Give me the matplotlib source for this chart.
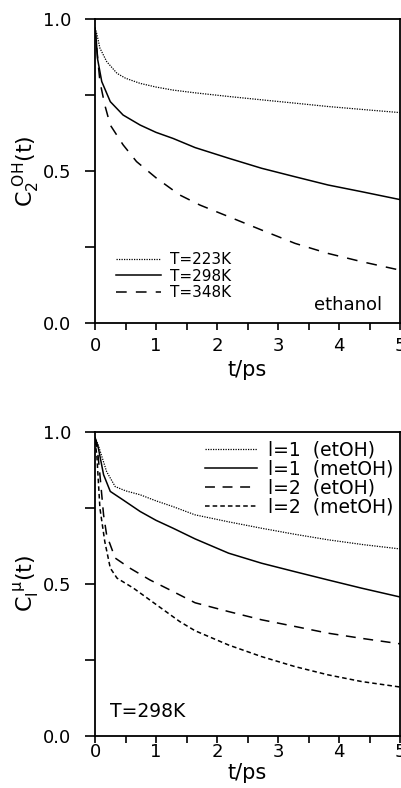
import numpy as np
import matplotlib
matplotlib.use('Agg')
import matplotlib.pyplot as plt
import matplotlib.ticker as ticker

# top panel: ethanol, C2^OH(t) at three temperatures
t223 = [0.0, 0.03, 0.08, 0.19, 0.36, 0.5, 0.74, 1.0, 1.28, 1.64, 2.19, 2.73, 3.28, 3.82, 4.4, 5.0]
c223 = [0.97, 0.95, 0.904, 0.86, 0.821, 0.805, 0.788, 0.776, 0.766, 0.757, 0.745, 0.734, 0.723, 0.712, 0.702, 0.692]
t298 = [0.0, 0.02, 0.04, 0.11, 0.25, 0.46, 0.74, 1.0, 1.28, 1.64, 2.19, 2.73, 3.28, 3.82, 4.37, 5.0]
c298 = [0.97, 0.93, 0.87, 0.794, 0.728, 0.684, 0.651, 0.627, 0.607, 0.577, 0.542, 0.509, 0.481, 0.454, 0.432, 0.406]
t348 = [0.0, 0.03, 0.08, 0.16, 0.25, 0.46, 0.68, 1.01, 1.39, 1.72, 2.19, 2.73, 3.28, 3.82, 4.37, 5.0]
c348 = [0.97, 0.90, 0.794, 0.717, 0.651, 0.586, 0.531, 0.476, 0.421, 0.388, 0.35, 0.306, 0.262, 0.229, 0.202, 0.174]

# bottom panel: l=1,2 for etOH and metOH at 298 K
t_l1_et = [0.0, 0.05, 0.19, 0.33, 0.5, 0.74, 1.0, 1.28, 1.64, 2.19, 2.73, 3.28, 3.82, 4.4, 5.0]
l1_et = [0.98, 0.957, 0.868, 0.819, 0.805, 0.792, 0.772, 0.753, 0.726, 0.703, 0.682, 0.662, 0.644, 0.628, 0.614]
t_l1_met = [0.0, 0.05, 0.14, 0.25, 0.46, 0.74, 1.0, 1.28, 1.64, 2.19, 2.73, 3.28, 3.82, 4.37, 5.0]
l1_met = [0.98, 0.95, 0.858, 0.803, 0.775, 0.737, 0.708, 0.682, 0.647, 0.6, 0.567, 0.539, 0.512, 0.485, 0.456]
t_l2_et = [0.0, 0.04, 0.08, 0.14, 0.19, 0.33, 0.57, 0.9, 1.2, 1.64, 2.19, 2.73, 3.28, 3.82, 4.37, 5.0]
l2_et = [0.98, 0.94, 0.858, 0.726, 0.66, 0.584, 0.551, 0.512, 0.482, 0.437, 0.408, 0.381, 0.359, 0.337, 0.32, 0.302]
t_l2_met = [0.0, 0.03, 0.08, 0.16, 0.25, 0.36, 0.63, 1.01, 1.39, 1.64, 2.19, 2.73, 3.28, 3.82, 4.37, 5.0]
l2_met = [0.97, 0.92, 0.748, 0.638, 0.551, 0.518, 0.485, 0.43, 0.375, 0.345, 0.298, 0.26, 0.227, 0.2, 0.178, 0.16]

leg_top = ['T=223K', 'T=298K', 'T=348K']
leg_bot = ['l=1  (etOH)', 'l=1  (metOH)', 'l=2  (etOH)', 'l=2  (metOH)']

plt.rcParams['font.family'] = ['DejaVu Sans']
fig = plt.figure(figsize=(4.01, 7.88), dpi=100)
ax1 = fig.add_axes([0.237, 0.590, 0.7605, 0.386])
ax2 = fig.add_axes([0.237, 0.0664, 0.7605, 0.386])

lw = 1.1
ax1.plot(t223, c223, color='k', lw=0.9, linestyle=(0, (1, 1)), label=leg_top[0])
ax1.plot(t298, c298, color='k', lw=lw, linestyle='-', label=leg_top[1])
ax1.plot(t348, c348, color='k', lw=lw, linestyle=(0, (7, 6)), label=leg_top[2])

ax2.plot(t_l1_et, l1_et, color='k', lw=0.9, linestyle=(0, (1, 1)), label=leg_bot[0])
ax2.plot(t_l1_met, l1_met, color='k', lw=lw, linestyle='-', label=leg_bot[1])
ax2.plot(t_l2_et, l2_et, color='k', lw=lw, linestyle=(0, (6.5, 5)), label=leg_bot[2])
ax2.plot(t_l2_met, l2_met, color='k', lw=lw, linestyle=(0, (3, 2)), label=leg_bot[3])

for ax in (ax1, ax2):
    ax.set_xlim(0, 5)
    ax.set_ylim(0, 1)
    ax.xaxis.set_major_locator(ticker.MultipleLocator(1))
    ax.xaxis.set_minor_locator(ticker.MultipleLocator(0.5))
    ax.yaxis.set_major_locator(ticker.MultipleLocator(0.5))
    ax.yaxis.set_minor_locator(ticker.MultipleLocator(0.25))
    ax.yaxis.set_major_formatter(ticker.FormatStrFormatter('%.1f'))
    ax.tick_params(which='both', direction='out', width=1.2, labelsize=13)
    ax.tick_params(axis='y', which='both', length=7.5, pad=9.5)
    for s in ax.spines.values():
        s.set_linewidth(1.3)

ax1.tick_params(axis='x', which='both', length=5, pad=5)
ax2.tick_params(axis='x', which='both', length=5, pad=0.5)
ax1.set_xlabel('t/ps', fontsize=15, labelpad=3.3)
ax2.set_xlabel('t/ps', fontsize=15, labelpad=1)

ax1.set_ylabel(r'$\mathrm{C_2^{\ OH}(t)}$', fontsize=16, labelpad=1)
ax2.set_ylabel(r'$\mathrm{C_l^{\ \mu}(t)}$', fontsize=16, labelpad=1)

ax1.legend(loc='lower left', bbox_to_anchor=(0.05, 0.055), frameon=False, fontsize=11,
           handlelength=2.9, handletextpad=0.6, labelspacing=0.1, borderaxespad=0)
ax1.text(0.941, 0.059, 'ethanol', transform=ax1.transAxes, ha='right', va='center', fontsize=13)

ax2.legend(loc='upper right', bbox_to_anchor=(1.01, 1.0), frameon=False, fontsize=13.5,
           handlelength=2.8, handletextpad=0.6, labelspacing=0.0, borderaxespad=0.1)
ax2.text(0.049, 0.081, 'T=298K', transform=ax2.transAxes, ha='left', va='center', fontsize=13.5)

fig.savefig('out.png', dpi=100)
